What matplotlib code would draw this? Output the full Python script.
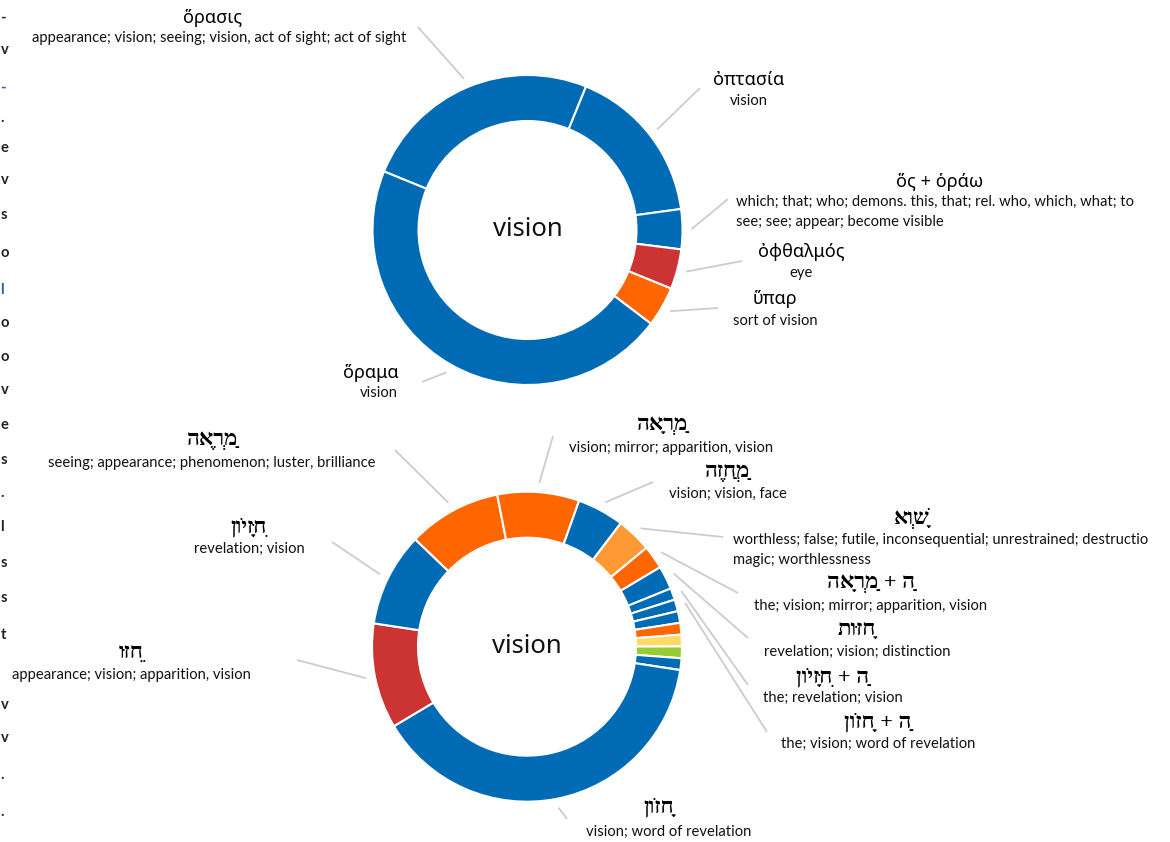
import unicodedata
import numpy as np
import matplotlib
matplotlib.use('Agg')
import matplotlib.pyplot as plt

W, H = 1170, 842

BLUE = '#006bb5'
ORANGE = '#ff6600'
RED = '#cc3333'
LIGHT_ORANGE = '#ff9933'
YELLOW = '#ffd966'
GREEN = '#99cc33'

# --- greek donut (clockwise order) ---
greek_words = ['ὅρασις', 'ὀπτασία', 'ὅς + ὁράω', 'ὀφθαλμός', 'ὕπαρ', 'ὅραμα']
greek_glosses = ['appearance; vision; seeing; vision, act of sight; act of sight',
                 'vision',
                 'which; that; who; demons. this, that; rel. who, which, what; to\nsee; see; appear; become visible',
                 'eye',
                 'sort of vision',
                 'vision']
greek_counts = [6, 4, 1, 1, 1, 11]
greek_colors = [BLUE, BLUE, BLUE, RED, ORANGE, BLUE]

# --- hebrew donut (clockwise order) ---
hebrew_words = ['מַרְאֶה', 'מַרְאָה', 'מַחֲזֶה', 'שָׁוְא', 'הַ + מַרְאָה', 'חָזוּת',
                'הַ + חִזָּיוֹן', 'הַ + חָזוֹן', None, None, None, None, None,
                'חָזוֹן', 'חֵזוּ', 'חִזָּיוֹן']
hebrew_glosses = ['seeing; appearance; phenomenon; luster, brilliance',
                  'vision; mirror; apparition, vision',
                  'vision; vision, face',
                  'worthless; false; futile, inconsequential; unrestrained; destructio\nmagic; worthlessness',
                  'the; vision; mirror; apparition, vision',
                  'revelation; vision; distinction',
                  'the; revelation; vision',
                  'the; vision; word of revelation',
                  None, None, None, None, None,
                  'vision; word of revelation',
                  'appearance; vision; apparition, vision',
                  'revelation; vision']
hebrew_counts = [8, 7, 4, 3, 2, 2, 1, 1, 1, 1, 1, 1, 1, 32, 9, 8]
hebrew_colors = [ORANGE, ORANGE, BLUE, LIGHT_ORANGE, ORANGE, BLUE, BLUE, BLUE,
                 BLUE, ORANGE, YELLOW, GREEN, BLUE, BLUE, RED, BLUE]

center_word = 'vision'

# label layout in pixels: title x,y / gloss x,y / connector end x,y / gloss align
greek_layout = [(213, 18, 219, 38, 418, 27, 'center'),
                (749, 80, 749, 101, 700, 88, 'center'),
                (940, 182, 736, 212, 728, 199, 'left'),
                (801, 252, 801, 273, 742, 261, 'center'),
                (775, 299, 775, 321, 718, 308, 'center'),
                (371, 373, 379, 393, 422, 382, 'center')]
hebrew_layout = [(212, 440, 212, 463, 395, 450, 'center'),
                 (662, 425, 671, 448, 553, 436, 'center'),
                 (728, 472, 728, 494, 653, 482, 'center'),
                 (912, 518, 733, 550, 723, 537, 'left'),
                 (871, 583, 871, 606, 738, 593, 'center'),
                 (857, 630, 857, 652, 748, 638, 'center'),
                 (833, 677, 833, 698, 748, 685, 'center'),
                 (878, 722, 878, 744, 767, 732, 'center'),
                 None, None, None, None, None,
                 (659, 807, 669, 832, 567, 819, 'center'),
                 (131, 653, 131, 675, 297, 660, 'center'),
                 (249, 527, 249, 549, 332, 542, 'center')]

# text fragments on the left page edge
edge_chars = ['-', 'v', '-', '.', 'e', 'v', 's', 'o', 'l', 'o', 'o', 'v', 'e', 's',
              '.', 'l', 's', 's', 't', 'v', 'v', '.', '.']
edge_y = [18, 50, 88, 118, 148, 180, 215, 253, 290, 323, 357, 390, 425, 460,
          493, 527, 563, 598, 635, 705, 738, 775, 812]
edge_blue = [2, 8]

LATIN = ['Lato', 'DejaVu Sans']
GREEK = ['Noto Sans', 'DejaVu Sans']
HEBREW = ['Liberation Serif', 'DejaVu Sans']


def visual(s):
    # matplotlib lays text out left to right: reverse hebrew clusters by hand
    clusters = []
    for ch in s:
        if clusters and unicodedata.combining(ch):
            clusters[-1] += ch
        else:
            clusters.append(ch)
    return ''.join(clusters[::-1])


fig = plt.figure(figsize=(W / 100, H / 100), dpi=100)
ax = fig.add_axes([0, 0, 1, 1])


def donut(counts, colors, cx, cy, start_clock):
    ax.pie(counts, colors=colors, startangle=90 - start_clock, counterclock=False,
           radius=155, center=(cx, H - cy),
           wedgeprops=dict(width=46, edgecolor='white', linewidth=1.5))
    total = float(sum(counts))
    edges = np.cumsum([0] + list(counts))
    mids = start_clock + (edges[:-1] + edges[1:]) / 2.0 * 360.0 / total
    ax.text(cx, H - cy, center_word, ha='center', va='center', fontsize=18.5,
            family=GREEK, color='#111111')
    return mids


def labels(mids, cx, cy, words, glosses, layout, family, size, weight, rtl):
    for mid, word, gloss, lay in zip(mids, words, glosses, layout):
        if word is None:
            continue
        a = np.radians(mid)
        sx = cx + 164 * np.sin(a)
        sy = cy - 164 * np.cos(a)
        tx, ty, gx, gy, ex, ey, align = lay
        ax.plot([sx, ex], [H - sy, H - ey], color='#cccccc', lw=1.3,
                solid_capstyle='butt')
        ax.text(tx, H - ty, visual(word) if rtl else word, ha='center', va='center',
                fontsize=size, family=family, weight=weight, color='#000000')
        ax.text(gx, H - gy, gloss, ha=align, va='center', fontsize=10.6,
                family=LATIN, color='#111111', linespacing=1.5)


mids_g = donut(greek_counts, greek_colors, 527.5, 230, 292.2)
labels(mids_g, 527.5, 230, greek_words, greek_glosses, greek_layout,
       GREEK, 13, 'normal', False)

mids_h = donut(hebrew_counts, hebrew_colors, 527, 646.7, 313.8)
labels(mids_h, 527, 646.7, hebrew_words, hebrew_glosses, hebrew_layout,
       HEBREW, 16, 'bold', True)

for i, (c, y) in enumerate(zip(edge_chars, edge_y)):
    ax.text(0.5, H - y, c, ha='left', va='center', fontsize=10.6, family=LATIN,
            weight='bold', color='#3355aa' if i in edge_blue else '#222222')

ax.set_xlim(0, W)
ax.set_ylim(0, H)
ax.set_aspect('auto')
ax.axis('off')

fig.savefig('out.png', dpi=100)
